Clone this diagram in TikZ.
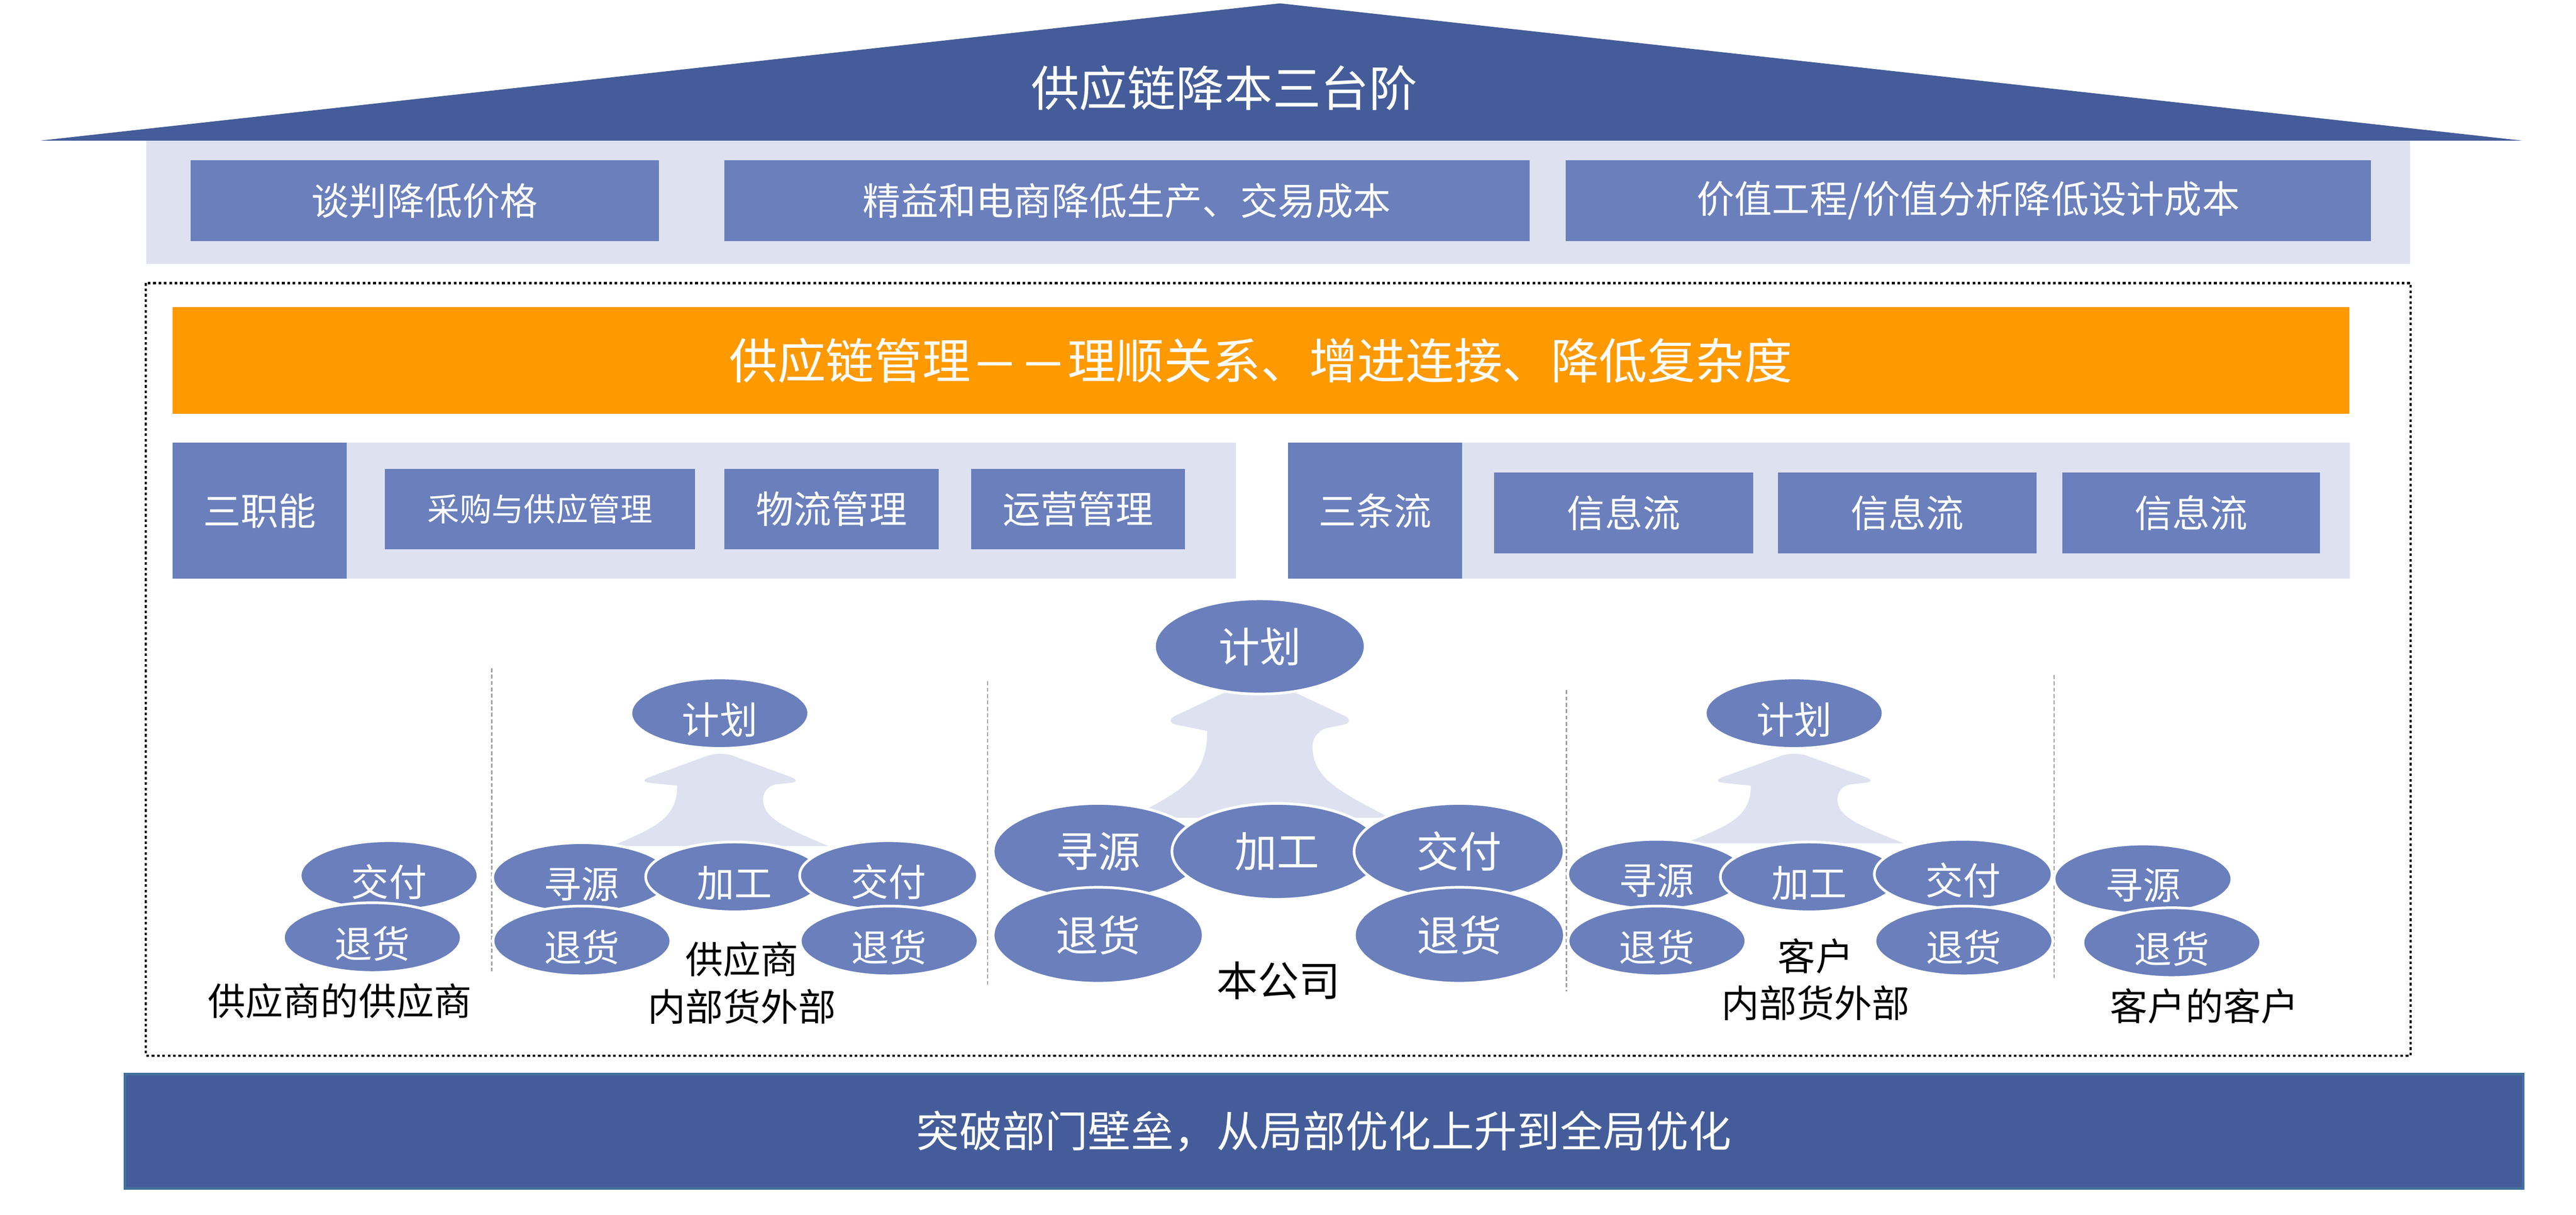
\documentclass[tikz,border=0pt]{standalone}
\usepackage{fontspec}
\usepackage{graphicx}
\setmainfont{Noto Sans CJK SC}
\usetikzlibrary{shapes.geometric}

\definecolor{roofblue}{RGB}{68,92,153}
\definecolor{boxblue}{RGB}{106,127,188}
\definecolor{paleblue}{RGB}{222,226,240}
\definecolor{mgmtorange}{RGB}{255,153,0}
\definecolor{edgeblue}{RGB}{65,113,156}

\tikzstyle{box blue}=[fill=boxblue, text=white, inner sep=0pt, font=\fontsize{32}{36}\selectfont]
\tikzstyle{pale}=[fill=paleblue]
\tikzstyle{frame}=[line width=.065cm, dash pattern=on .08cm off .08cm]
\tikzstyle{divider}=[gray!75, line width=.035cm, dash pattern=on .12cm off .07cm]
\tikzstyle{flow arrow}=[fill=paleblue]
\tikzstyle{oval}=[ellipse, fill=boxblue, draw=white, line width=.08cm, text=white, inner sep=0pt, minimum width=5.3cm, minimum height=2.08cm, text height=1.35cm, text depth=.12cm, font=\fontsize{32}{36}\selectfont]
\tikzstyle{big oval}=[oval, minimum width=6.26cm, minimum height=2.86cm, text height=1.1cm, text depth=.14cm, font=\fontsize{36}{40}\selectfont]
\tikzstyle{party}=[inner sep=0pt, align=center, font=\fontsize{32}{40}\selectfont]

\newcommand{\shortdash}{\makebox[1em]{\scalebox{.88}[1.1]{—}}}

\begin{document}
\begin{tikzpicture}[y=-1cm]
    \useasboundingbox (0,0) rectangle (76.8,36.21);

    % Roof
    \fill[roofblue] (1.22,4.19) -- (38.16,0.10) -- (75.18,4.19) -- cycle;
    \draw (36.50,2.62) node[text=white, font=\fontsize{41}{44}\selectfont] (roof) {供应链降本三台阶};

    % Three steps
    \fill[pale] (4.36,4.19) rectangle (71.86,7.87);
    \draw (12.66,5.985) node[box blue, minimum width=13.96cm, minimum height=2.41cm] (price) {谈判降低价格};
    \draw (33.60,5.985) node[box blue, minimum width=24cm, minimum height=2.41cm] (lean) {精益和电商降低生产、交易成本};
    \draw (58.68,5.985) node[box blue, minimum width=24cm, minimum height=2.41cm] (value) {价值工程/价值分析降低设计成本};

    % Frame
    \draw[frame] (4.35,8.44) rectangle (71.87,31.47);

    % Management
    \draw (37.59,10.75) node[box blue, fill=mgmtorange, minimum width=64.9cm, minimum height=3.18cm, font=\fontsize{41}{44}\selectfont] (scm) {供应链管理\shortdash\shortdash 理顺关系、增进连接、降低复杂度};

    % Functions
    \fill[pale] (5.15,13.20) rectangle (36.85,17.25);
    \draw (7.74,15.225) node[box blue, minimum width=5.18cm, minimum height=4.05cm] (funcs) {三职能};
    \draw (16.10,15.175) node[box blue, minimum width=9.24cm, minimum height=2.41cm, font=\fontsize{27.3}{30}\selectfont] (purchase) {采购与供应管理};
    \draw (24.79,15.175) node[box blue, minimum width=6.38cm, minimum height=2.41cm] (logistics) {物流管理};
    \draw (32.14,15.175) node[box blue, minimum width=6.38cm, minimum height=2.41cm] (operation) {运营管理};

    % Flows
    \fill[pale] (38.40,13.20) rectangle (70.06,17.25);
    \draw (40.995,15.225) node[box blue, minimum width=5.19cm, minimum height=4.05cm] (flows) {三条流};
    \draw (48.41,15.295) node[box blue, minimum width=7.72cm, minimum height=2.41cm] (info1) {信息流};
    \draw (56.86,15.295) node[box blue, minimum width=7.72cm, minimum height=2.41cm] (info2) {信息流};
    \draw (65.325,15.295) node[box blue, minimum width=7.69cm, minimum height=2.41cm] (info3) {信息流};

    % Dividers
    \draw[divider] (14.66,19.92) -- (14.66,28.95);
    \draw[divider] (29.45,20.31) -- (29.45,29.40);
    \draw[divider] (46.70,20.57) -- (46.70,29.56);
    \draw[divider] (61.24,20.12) -- (61.24,29.16);

    % Arrows
    \fill[flow arrow] (20.19,23.42) [rounded corners=.4cm] -- (18.99,23.30) -- (21.47,22.39) -- (23.95,23.30) -- (22.75,23.42) [sharp corners] .. controls (22.75,24.41) and (23.43,24.68) .. (24.70,25.22) -- (18.24,25.22) .. controls (19.51,24.68) and (20.19,24.41) .. cycle;
    \fill[flow arrow] (35.99,21.79) [rounded corners=.45cm] -- (34.65,21.52) -- (37.56,20.15) -- (40.47,21.52) -- (39.13,21.79) [sharp corners] .. controls (39.13,23.21) and (39.94,23.60) .. (41.44,24.38) -- (33.68,24.38) .. controls (35.18,23.60) and (35.99,23.21) .. cycle;
    \fill[flow arrow] (52.20,23.42) [rounded corners=.4cm] -- (50.99,23.30) -- (53.49,22.39) -- (55.99,23.30) -- (54.78,23.42) [sharp corners] .. controls (54.78,24.37) and (55.47,24.62) .. (56.76,25.14) -- (50.22,25.14) .. controls (51.51,24.62) and (52.20,24.37) .. cycle;

    % Supplier's supplier
    \draw (11.60,26.10) node[oval] (ssdel) {交付};
    \draw (11.10,27.95) node[oval] (ssret) {退货};
    \draw (10.13,29.84) node[party] (ssname) {供应商的供应商};

    % Supplier
    \draw (21.46,21.26) node[oval, minimum height=2.1cm] (splan) {计划};
    \draw (17.34,26.16) node[oval] (ssrc) {寻源};
    \draw (21.90,26.14) node[oval] (smake) {加工};
    \draw (26.49,26.10) node[oval] (sdel) {交付};
    \draw (17.35,28.05) node[oval] (sret1) {退货};
    \draw (26.51,28.05) node[oval] (sret2) {退货};
    \draw (22.12,29.30) node[party] (sname) {供应商\\内部货外部};

    % Own company
    \draw (37.56,19.27) node[big oval, minimum width=6.28cm, minimum height=2.84cm, font=\fontsize{35}{40}\selectfont] (plan) {计划};
    \draw (32.74,25.38) node[big oval] (src) {寻源};
    \draw (38.07,25.38) node[big oval] (make) {加工};
    \draw (43.50,25.38) node[big oval] (del) {交付};
    \draw (32.74,27.88) node[big oval] (ret1) {退货};
    \draw (43.51,27.88) node[big oval] (ret2) {退货};
    \draw (38.11,29.23) node[party, font=\fontsize{35}{40}\selectfont] (ownname) {本公司};

    % Customer
    \draw (53.49,21.26) node[oval, minimum height=2.1cm] (cplan) {计划};
    \draw (49.39,26.06) node[oval] (csrc) {寻源};
    \draw (53.94,26.14) node[oval] (cmake) {加工};
    \draw (58.53,26.06) node[oval] (cdel) {交付};
    \draw (49.40,28.05) node[oval] (cret1) {退货};
    \draw (58.55,28.05) node[oval] (cret2) {退货};
    \draw (54.13,29.20) node[party] (cname) {客户\\内部货外部};

    % Customer's customer
    \draw (63.89,26.20) node[oval] (ccsrc) {寻源};
    \draw (64.75,28.10) node[oval] (ccret) {退货};
    \draw (65.72,29.99) node[party] (ccname) {客户的客户};

    % Base
    \draw (39.475,33.725) node[box blue, fill=roofblue, draw=edgeblue, line width=.08cm, minimum width=71.49cm, minimum height=3.41cm, font=\fontsize{36.4}{40}\selectfont] (base) {突破部门壁垒，从局部优化上升到全局优化};

\end{tikzpicture}
\end{document}
